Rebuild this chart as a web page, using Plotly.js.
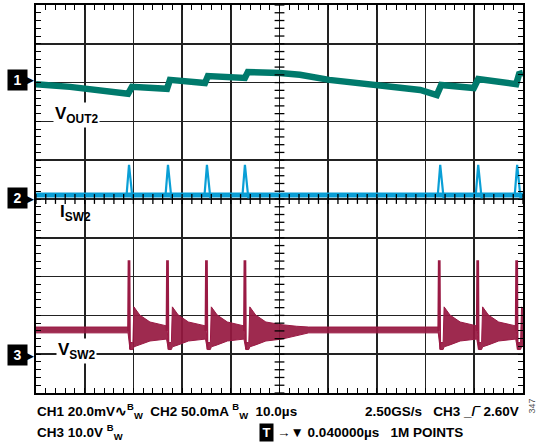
<!DOCTYPE html>
<html><head><meta charset="utf-8">
<script src="https://cdn.plot.ly/plotly-3.0.1.min.js"></script>
<style>html,body{margin:0;padding:0;background:#fff}#chart{width:545px;height:444px}</style>
</head><body><div id="chart"></div>
<script>
// Channel settings (scale per division, marker position in divisions from bottom)
const ch1ScaleMV = 20, ch1MarkerDiv = 8;
const ch2ScaleMA = 50, ch2MarkerDiv = 5;
const ch3ScaleV = 10, ch3MarkerDiv = 1;

// CH1: VOUT2 (mV relative to marker), time in µs
const ch1TimeUs = [0, 7.0, 18.9, 19.7, 26.9, 27.5, 34.7, 35.3, 42.9, 43.5, 50.1, 54.2, 60.2, 70.0, 78.9, 82.3, 83.2, 89.9, 90.8, 98.6, 99.2, 100];
const ch1mV     = [-0.8, -2.2, -5.8, -2.2, -3.2, 1.4, -0.2, 3.4, 2.4, 5.4, 5.0, 4.0, 1.4, -1.2, -3.8, -6.4, -1.2, -2.8, 1.8, -0.8, 4.4, 5.0];

// CH2: ISW2 (mA relative to marker)
const ch2BandTimeUs = [0, 100];
const ch2BandmA = [5, 5];
const ch2TimeUs = [0, 18.6, 19.1, 19.8, 20.0, 26.6, 27.1, 27.8, 28.0, 34.6, 35.1, 35.8, 36.0, 42.4, 42.9, 43.6, 43.8,
                   82.5, 83.0, 83.7, 83.9, 90.3, 90.8, 91.5, 91.7, 98.3, 98.8, 99.5, 99.7, 100];
const ch2mA     = [5, 5, 44, 1, 5, 5, 44, 1, 5, 5, 44, 1, 5, 5, 44, 1, 5,
                   5, 44, 1, 5, 5, 44, 1, 5, 5, 44, 1, 5, 5];

// CH3: VSW2 (V relative to marker) - envelope of the ringing (upper / lower)
const ch3EnvTimeUs = [0, 18.9, 19.3, 19.9, 20.1, 21.3, 23.4, 26.8, 27.2, 27.8, 28.0, 29.2, 31.3, 34.8, 35.2, 35.8, 36.0, 37.2, 39.3, 42.7,
                      43.1, 43.7, 43.9, 45.1, 47.2, 50.5, 53.5, 56.0, 82.6, 83.0, 83.6, 83.8, 85.0, 87.1, 90.5, 90.9, 91.5, 91.7, 92.9, 95.0,
                      98.5, 98.9, 99.5, 99.7, 100];
const ch3EnvHighV = [7.0, 7.0, 3.0, 3.0, 12.2, 10.1, 8.3, 7.3, 3.0, 3.0, 12.2, 10.1, 8.3, 7.3, 3.0, 3.0, 12.2, 10.1, 8.3, 7.3,
                     3.0, 3.0, 12.2, 10.1, 8.3, 7.6, 7.2, 7.0, 7.0, 3.0, 3.0, 12.2, 10.1, 8.3, 7.3, 3.0, 3.0, 12.2, 10.1, 8.3,
                     7.3, 3.0, 3.0, 12.2, 11.5];
const ch3EnvLowV  = [5.5, 5.5, 1.2, 1.2, 1.9, 2.4, 3.4, 3.9, 1.2, 1.2, 1.9, 2.4, 3.4, 3.9, 1.2, 1.2, 1.9, 2.4, 3.4, 3.9,
                     1.2, 1.2, 1.9, 2.4, 3.4, 3.9, 4.8, 5.5, 5.5, 1.2, 1.2, 1.9, 2.4, 3.4, 3.9, 1.2, 1.2, 1.9, 2.4, 3.4,
                     3.9, 1.2, 1.2, 1.9, 2.0];
// CH3 switching spikes
const ch3SpikeTimeUs = [18.9, 19.0, 19.2, 19.3, null, 26.8, 26.9, 27.1, 27.2, null, 34.8, 34.9, 35.1, 35.2, null, 42.7, 42.8, 43.0, 43.1, null,
                        82.6, 82.7, 82.9, 83.0, null, 90.5, 90.6, 90.8, 90.9, null, 98.5, 98.6, 98.8, 98.9];
const ch3SpikeV = [6.0, 24, 24, 1.2, null, 6.0, 24, 24, 1.2, null, 6.0, 24, 24, 1.2, null, 6.0, 24, 24, 1.2, null,
                   6.0, 24, 24, 1.2, null, 6.0, 24, 24, 1.2, null, 6.0, 24, 24, 1.2];

// Screen graticule: 10 horizontal divisions of 10 µs, 10 vertical divisions, 5 minor ticks per division
const timePerDiv = 10, hDivs = 10, vDivs = 10, minorPerDiv = 5;

const toDiv = (arr, scale, marker) => arr.map(v => v === null ? null : marker + v / scale);

// centre-line minor ticks of the graticule
const hTickX = [], hTickY = [], vTickX = [], vTickY = [];
for (let i = 0; i <= hDivs * minorPerDiv; i++) { hTickX.push(i * timePerDiv / minorPerDiv); hTickY.push(vDivs / 2); }
for (let i = 0; i <= vDivs * minorPerDiv; i++) { vTickY.push(i / minorPerDiv); vTickX.push(hDivs * timePerDiv / 2); }

const teal = '#007a6c', blue = '#0a9fd6', crimson = '#9a1a44';

const traces = [
  {x: ch1TimeUs, y: toDiv(ch1mV, ch1ScaleMV, ch1MarkerDiv), mode: 'lines', line: {color: teal, width: 6.5}, hoverinfo: 'skip'},
  {x: ch2BandTimeUs, y: toDiv(ch2BandmA, ch2ScaleMA, ch2MarkerDiv), mode: 'lines', line: {color: blue, width: 5}, hoverinfo: 'skip'},
  {x: ch2TimeUs, y: toDiv(ch2mA, ch2ScaleMA, ch2MarkerDiv), mode: 'lines', line: {color: blue, width: 2.2}, hoverinfo: 'skip'},
  {x: ch3EnvTimeUs, y: toDiv(ch3EnvLowV, ch3ScaleV, ch3MarkerDiv), mode: 'lines', line: {color: crimson, width: 1}, hoverinfo: 'skip'},
  {x: ch3EnvTimeUs, y: toDiv(ch3EnvHighV, ch3ScaleV, ch3MarkerDiv), mode: 'lines', fill: 'tonexty', fillcolor: 'rgba(150,24,64,0.92)', line: {color: crimson, width: 1}, hoverinfo: 'skip'},
  {x: ch3SpikeTimeUs, y: toDiv(ch3SpikeV, ch3ScaleV, ch3MarkerDiv), mode: 'lines', line: {color: crimson, width: 1.8}, connectgaps: false, hoverinfo: 'skip'},
  // graticule centre-line ticks
  {x: hTickX, y: hTickY, mode: 'markers', cliponaxis: false, marker: {symbol: 'line-ns', size: 7, line: {color: '#000', width: 1.3}}, hoverinfo: 'skip'},
  {x: vTickX, y: vTickY, mode: 'markers', cliponaxis: false, marker: {symbol: 'line-ew', size: 7, line: {color: '#000', width: 1.3}}, hoverinfo: 'skip'}
];

const L = 36, R = 523, T = 5, B = 393;
const px = p => (p - L) / (R - L);
const py = p => (B - p) / (B - T);

const baseAxis = {
  showgrid: true, gridcolor: '#222', gridwidth: 1.6, zeroline: false,
  showline: true, linecolor: '#000', linewidth: 2, mirror: 'ticks',
  ticks: 'inside', ticklen: 5, tickwidth: 1, tickcolor: '#000', showticklabels: false, fixedrange: true
};

const bold = 'Arial, "Liberation Sans", sans-serif';
const ann = [];
function txt(text, x, y, xanchor, size, extra) {
  ann.push(Object.assign({text: text, xref: 'paper', yref: 'paper', x: px(x), y: py(y), xanchor: xanchor, yanchor: 'middle',
    showarrow: false, font: {family: bold, size: size, color: '#000', weight: 'bold'}}, extra || {}));
}
// channel markers
[[1, 80], [2, 198], [3, 355]].forEach(([n, yy]) => {
  txt('<b>' + n + '</b>', 17, yy, 'center', 14, {bgcolor: '#000', font: {family: bold, size: 14, color: '#fff', weight: 'bold'}, borderpad: 2, width: 15});
  txt('▶', 29, yy, 'center', 13, {font: {family: '"DejaVu Sans", sans-serif', size: 13, color: '#000'}});
});
// trace labels
txt('V<sub>OUT2</sub>', 53, 115, 'left', 17, {bgcolor: '#fff', borderpad: 1});
txt('I<sub>SW2</sub>', 58, 213, 'left', 17);
txt('V<sub>SW2</sub>', 56, 351, 'left', 17, {bgcolor: '#fff', borderpad: 1});
// scope settings text
txt('CH1 20.0mV∿<sup>B</sup><sub>W</sub>  CH2 50.0mA <sup>B</sup><sub>W</sub>  10.0µs', 35, 411, 'left', 13.5);
txt('2.50GS/s   CH3 _/‾ 2.60V', 521, 411, 'right', 13.5);
txt('CH3 10.0V <sup>B</sup><sub>W</sub>', 35, 432, 'left', 13.5);
txt('<b>T</b>', 266.5, 432, 'center', 13, {bgcolor: '#000', font: {family: bold, size: 13, color: '#fff', weight: 'bold'}, borderpad: 1, width: 11});
txt('→▼ 0.040000µs   1M POINTS', 275, 432, 'left', 13.5);
ann.push({text: '347', xref: 'paper', yref: 'paper', x: px(538), y: py(416), textangle: -90, showarrow: false,
  font: {family: 'Arial, sans-serif', size: 9, color: '#555'}});

const layout = {
  width: 545, height: 444,
  margin: {l: L, r: 545 - R, t: T, b: 444 - B, pad: 0},
  paper_bgcolor: '#fff', plot_bgcolor: '#fff', showlegend: false,
  xaxis: Object.assign({}, baseAxis, {range: [0, hDivs * timePerDiv], dtick: timePerDiv, minor: {dtick: timePerDiv / minorPerDiv, ticks: 'inside', ticklen: 5, tickcolor: '#000', showgrid: false}}),
  yaxis: Object.assign({}, baseAxis, {range: [0, vDivs], dtick: 1, minor: {dtick: 1 / minorPerDiv, ticks: 'inside', ticklen: 5, tickcolor: '#000', showgrid: false}}),
  annotations: ann
};

Plotly.newPlot('chart', traces, layout, {staticPlot: true, displayModeBar: false});
</script>
</body></html>
